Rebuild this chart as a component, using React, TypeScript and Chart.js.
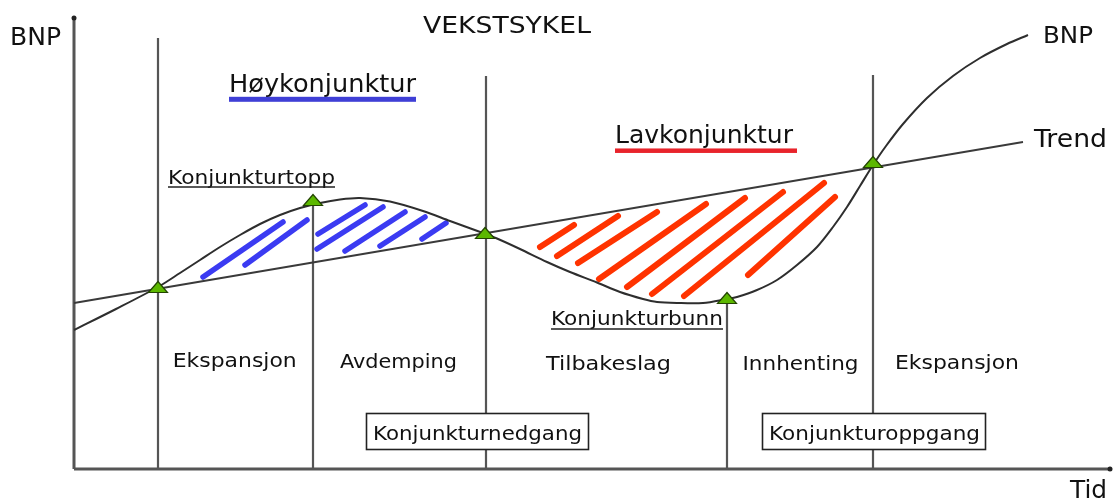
import React, { useEffect, useRef } from "react";
import { Chart, registerables } from "chart.js";

Chart.register(...registerables);

// ---- DATA (x = Tid, y = BNP, measured from the axes' origin) ----
const bnpTid = [0, 42, 84, 106, 126, 146, 166, 186, 206, 226, 246, 266, 286, 316, 349, 376, 409, 423, 446, 473, 496, 523, 546, 569, 583, 603, 629, 653, 663, 683, 703, 723, 743, 759, 773, 786, 799, 812, 829, 853, 879, 906, 933, 954];
const bnpVerdi = [139, 160, 182, 196, 209, 222, 234, 245, 254, 261, 266, 269.5, 271, 267.5, 258, 248, 236, 230.5, 220, 207, 197, 186.5, 177, 170, 167, 166, 166, 170, 172, 179, 189, 204, 222, 242, 262, 283, 304, 323, 345, 371, 393, 411, 425, 434];

const trendTid = [0, 949];
const trendVerdi = [166, 327];

const faseTid = [84, 239, 412, 653, 799];
const faseTopp = [431, 269, 393, 171, 394];

const punktTid = [84, 239, 411, 653, 799];
const punktVerdi = [182, 269, 236, 171, 307];

const yAkse = [[0, 0], [0, 451]];
const xAkse = [[0, 0], [1036, 0]];

// hatch strokes [x1, y1, x2, y2]
const hoyStreker = [
  [129, 192, 209, 247],
  [171, 204, 233, 249],
  [244, 235, 291, 264],
  [243, 220, 309, 262],
  [271, 218, 331, 257],
  [306, 223, 351, 252],
  [348, 230, 372, 246],
];
const lavStreker = [
  [466, 222, 500, 244],
  [483, 213, 544, 253],
  [504, 206, 583, 257],
  [525, 190, 632, 265],
  [553, 182, 671, 271],
  [578, 175, 709, 277],
  [610, 173, 750, 286],
  [674, 194, 761, 272],
];

// ---- annotations (texts and boxes) ----
type Lbl = { t: string; x: number; y: number; s: number; w: number; ul?: { c: string; dy: number; th: number; len: number } };
const tekster: Lbl[] = [
  { t: "BNP", x: -64, y: 424, s: 24, w: 51 },
  { t: "VEKSTSYKEL", x: 349, y: 436, s: 23, w: 168 },
  { t: "Høykonjunktur", x: 155, y: 377, s: 24, w: 187, ul: { c: "#3f3fd6", dy: 7.3, th: 5, len: 187 } },
  { t: "Konjunkturtopp", x: 94, y: 285.5, s: 20, w: 167, ul: { c: "#222", dy: 3.5, th: 1.5, len: 167 } },
  { t: "Lavkonjunktur", x: 541, y: 326, s: 24, w: 178, ul: { c: "#e8232b", dy: 7.7, th: 4.5, len: 182 } },
  { t: "Konjunkturbunn", x: 477, y: 144, s: 19, w: 172, ul: { c: "#222", dy: 4, th: 1.5, len: 172 } },
  { t: "Ekspansjon", x: 98.7, y: 101.7, s: 19, w: 124 },
  { t: "Avdemping", x: 266, y: 100.7, s: 19, w: 117 },
  { t: "Tilbakeslag", x: 472, y: 99, s: 19, w: 125 },
  { t: "Innhenting", x: 668.5, y: 99, s: 19, w: 116 },
  { t: "Ekspansjon", x: 821, y: 100, s: 19, w: 124 },
  { t: "Konjunkturnedgang", x: 299, y: 29, s: 19, w: 209 },
  { t: "Konjunkturoppgang", x: 695, y: 29, s: 19, w: 211 },
  { t: "BNP", x: 969, y: 426, s: 23, w: 50 },
  { t: "Trend", x: 960, y: 322.5, s: 24, w: 73 },
  { t: "Tid", x: 996, y: -28.5, s: 24, w: 37 },
];
const bokser = [
  { x0: 292, x1: 514, y0: 56, y1: 20 },
  { x0: 688, x1: 911, y0: 56, y1: 20 },
];

const FONT = '"DejaVu Sans", Verdana, sans-serif';

function segmenter(list: number[][]) {
  const out: any[] = [];
  list.forEach((s) => {
    out.push({ x: s[0], y: s[1] }, { x: s[2], y: s[3] }, { x: s[2], y: null });
  });
  return out;
}

const annotPlugin = {
  id: "annot",
  afterDatasetsDraw(chart: any) {
    const { ctx, scales } = chart;
    const X = (v: number) => scales.x.getPixelForValue(v);
    const Y = (v: number) => scales.y.getPixelForValue(v);
    ctx.save();
    bokser.forEach((b) => {
      const x0 = Math.round(X(b.x0)) + 0.5;
      const x1 = Math.round(X(b.x1)) + 0.5;
      const y0 = Math.round(Y(b.y0)) + 0.5;
      const y1 = Math.round(Y(b.y1)) + 0.5;
      ctx.fillStyle = "#fff";
      ctx.fillRect(x0, y0, x1 - x0, y1 - y0);
      ctx.strokeStyle = "#222";
      ctx.lineWidth = 1.6;
      ctx.strokeRect(x0, y0, x1 - x0, y1 - y0);
    });
    tekster.forEach((l) => {
      ctx.font = `${l.s}px ${FONT}`;
      ctx.fillStyle = "#111";
      ctx.textBaseline = "alphabetic";
      ctx.textAlign = "left";
      const mw = ctx.measureText(l.t).width;
      const px = X(l.x);
      const py = Y(l.y);
      ctx.save();
      ctx.translate(px, py);
      ctx.scale(l.w / mw, 1);
      ctx.fillText(l.t, 0, 0);
      ctx.restore();
      if (l.ul) {
        ctx.fillStyle = l.ul.c;
        ctx.fillRect(px, py + l.ul.dy - l.ul.th / 2, l.ul.len, l.ul.th);
      }
    });
    ctx.restore();
  },
};

function lagTrekant() {
  const c = document.createElement("canvas");
  c.width = 22;
  c.height = 14;
  const g = c.getContext("2d")!;
  g.beginPath();
  g.moveTo(1.5, 12.5);
  g.lineTo(11, 1.5);
  g.lineTo(20.5, 12.5);
  g.closePath();
  g.fillStyle = "#5cb800";
  g.fill();
  g.strokeStyle = "#234400";
  g.lineWidth = 1.2;
  g.stroke();
  return c;
}

export default function App() {
  const ref = useRef<HTMLCanvasElement>(null);
  useEffect(() => {
    if (!ref.current) return;
    const tri = lagTrekant();
    const vertikaler: any[] = [];
    faseTid.forEach((t, i) => {
      vertikaler.push({ x: t, y: 0 }, { x: t, y: faseTopp[i] }, { x: t, y: null });
    });
    const chart = new Chart(ref.current, {
      type: "line",
      data: {
        datasets: [
          {
            label: "punkter",
            data: punktTid.map((t, i) => ({ x: t, y: punktVerdi[i] })),
            showLine: false,
            pointStyle: tri as any,
            pointRadius: 8,
            order: 0,
          },
          {
            label: "BNP",
            data: bnpTid.map((t, i) => ({ x: t, y: bnpVerdi[i] })),
            borderColor: "#2e2e2e",
            borderWidth: 2,
            pointRadius: 0,
            tension: 0.3,
            order: 1,
          },
          {
            label: "Trend",
            data: trendTid.map((t, i) => ({ x: t, y: trendVerdi[i] })),
            borderColor: "#3a3a3a",
            borderWidth: 1.8,
            pointRadius: 0,
            order: 1,
          },
          {
            label: "Høykonjunktur",
            data: segmenter(hoyStreker),
            borderColor: "#3b3bf2",
            borderWidth: 5.5,
            borderCapStyle: "round",
            pointRadius: 0,
            spanGaps: false,
            order: 2,
          },
          {
            label: "Lavkonjunktur",
            data: segmenter(lavStreker),
            borderColor: "#ff3300",
            borderWidth: 6,
            borderCapStyle: "round",
            pointRadius: 0,
            spanGaps: false,
            order: 2,
          },
          {
            label: "faser",
            data: vertikaler,
            borderColor: "#555",
            borderWidth: 2.2,
            pointRadius: 0,
            spanGaps: false,
            order: 3,
          },
          {
            label: "yAkse",
            data: yAkse.map((p) => ({ x: p[0], y: p[1] })),
            borderColor: "#555",
            backgroundColor: "#222",
            borderWidth: 3,
            pointRadius: [0, 2.5],
            pointBorderWidth: 0,
            order: 3,
          },
          {
            label: "xAkse",
            data: xAkse.map((p) => ({ x: p[0], y: p[1] })),
            borderColor: "#555",
            backgroundColor: "#222",
            borderWidth: 3,
            pointRadius: [0, 2.5],
            pointBorderWidth: 0,
            order: 3,
          },
        ],
      },
      options: {
        animation: false,
        responsive: false,
        layout: { padding: 0, autoPadding: false },
        plugins: { legend: { display: false }, tooltip: { enabled: false }, title: { display: false } },
        events: [],
        scales: {
          x: { type: "linear", min: -74, max: 1041, display: false },
          y: { type: "linear", min: -31, max: 469, display: false },
        },
      } as any,
      plugins: [annotPlugin],
    });
    return () => chart.destroy();
  }, []);
  return (
    <div style={{ position: "absolute", left: 0, top: 0, width: 1115, height: 500, background: "#fff" }}>
      <canvas ref={ref} width={1115} height={500} />
    </div>
  );
}
